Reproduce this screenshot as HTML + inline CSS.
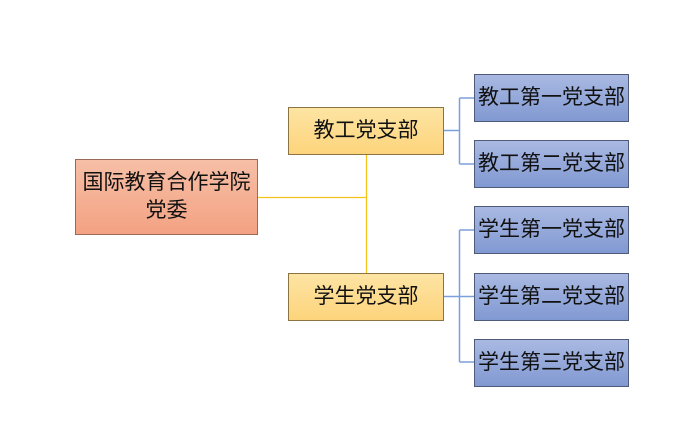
<!DOCTYPE html>
<html><head><meta charset="utf-8"><style>
body{margin:0;width:682px;height:429px;background:#fff;position:relative;overflow:hidden;font-family:"Liberation Sans","Noto Sans CJK SC",sans-serif;}
.b{position:absolute;box-sizing:border-box;display:flex;align-items:center;justify-content:center;text-align:center;color:#111;font-size:21px;line-height:28px;white-space:nowrap;}
.r{background:linear-gradient(#f6bfa6,#f4a283);border:1px solid #9a6a58;}
.y{background:linear-gradient(#fde4a3,#fdd47c);border:1px solid #8a7442;}
.u{background:linear-gradient(#a9b9e2,#8199d2);border:1px solid #4f5b78;}
</style></head><body>
<svg width="682" height="429" style="position:absolute;left:0;top:0">
<g stroke="#f8c21c" stroke-width="1.3" fill="none">
<path d="M257 197.5H366.5M366.5 154V273"/></g>
<g stroke="#7d9fd8" stroke-width="1.5" fill="none">
<path d="M443 130.5H459.5M459.5 98V164M459.5 98H474M459.5 164H474"/>
<path d="M443 296.5H474M459.5 230V362M459.5 230H474M459.5 362H474"/></g>
</svg>
<div class="b r" style="left:75px;top:159px;width:183px;height:76px">国际教育合作学院<br>党委</div>
<div class="b y" style="left:288px;top:107px;width:156px;height:48px">教工党支部</div>
<div class="b y" style="left:288px;top:273px;width:156px;height:48px">学生党支部</div>
<div class="b u" style="left:474px;top:74px;width:155px;height:48px">教工第一党支部</div>
<div class="b u" style="left:474px;top:140px;width:155px;height:48px">教工第二党支部</div>
<div class="b u" style="left:474px;top:206px;width:155px;height:48px">学生第一党支部</div>
<div class="b u" style="left:474px;top:273px;width:155px;height:48px">学生第二党支部</div>
<div class="b u" style="left:474px;top:339px;width:155px;height:48px">学生第三党支部</div>
</body></html>
